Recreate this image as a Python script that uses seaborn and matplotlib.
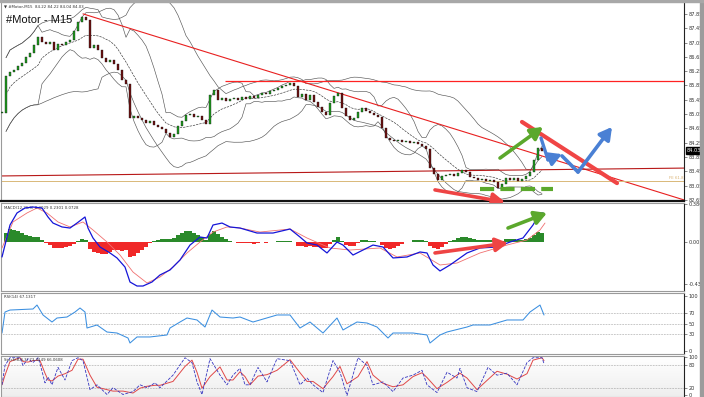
import numpy as np
import pandas as pd
import matplotlib
matplotlib.use('Agg')
import matplotlib.pyplot as plt
from matplotlib.patches import Rectangle
import seaborn as sns

# closing prices, one bar every ~2 original candles
closes = [85.08, 86.11, 86.23, 86.28, 86.39, 86.48, 86.65, 86.76, 86.98, 87.21,
          87.07, 87.01, 87.07, 86.84, 87.01, 86.98, 87.07, 87.12, 87.37, 87.63,
          87.77, 87.68, 86.90, 86.98, 86.84, 86.62, 86.51, 86.56, 86.45, 86.28,
          86.00, 85.89, 84.94, 84.99, 84.94, 84.88, 84.80, 84.85, 84.74, 84.69,
          84.63, 84.52, 84.41, 84.49, 84.71, 84.85, 85.02, 85.05, 84.97, 84.99,
          84.88, 84.77, 85.58, 85.72, 85.44, 85.50, 85.41, 85.47, 85.50, 85.44,
          85.53, 85.47, 85.55, 85.50, 85.58, 85.64, 85.61, 85.69, 85.72, 85.78,
          85.83, 85.86, 85.92, 85.83, 85.53, 85.61, 85.44, 85.58, 85.39, 85.25,
          85.11, 85.02, 85.36, 85.55, 85.64, 85.22, 84.99, 84.88, 84.94, 85.11,
          85.22, 85.13, 85.08, 85.02, 84.97, 84.66, 84.38, 84.32, 84.29, 84.32,
          84.27, 84.29, 84.24, 84.27, 84.21, 84.15, 84.07, 83.54, 83.37, 83.20,
          83.31, 83.34, 83.37, 83.31, 83.40, 83.48, 83.43, 83.29, 83.26, 83.20,
          83.23, 83.17, 83.20, 83.15, 82.98, 83.09, 83.26, 83.20, 83.26, 83.17,
          83.23, 83.31, 83.43, 83.76, 84.10, 84.03]

# MACD main line (blue) and signal line (red), read at bar positions
macd_x = [0, 0.75, 2, 3.75, 5.75, 7.75, 10, 11.5, 12.75, 15, 17, 18.75, 20.75, 21.5,
          22.75, 24.5, 27, 28.75, 30.75, 32, 33.75, 35.25, 37.5, 39.5, 42, 44.5, 47,
          49.5, 51.25, 52.75, 55, 57, 59.5, 63.75, 67.75, 72, 74.5, 76.25, 78.75,
          81.25, 83.75, 85.25, 87.75, 90.25, 92.75, 95.25, 97.75, 101.25, 104.5,
          106.25, 107.75, 109.5, 112, 116.25, 119.5, 123.75, 127, 130.25, 132.75,
          134.5, 135.25]
macd_main = [-0.152, -0.030, 0.175, 0.298, 0.349, 0.359, 0.349, 0.257, 0.195, 0.155,
             0.144, 0.195, 0.257, 0.144, 0.042, -0.050, -0.111, -0.162, -0.255, -0.408,
             -0.449, -0.449, -0.408, -0.336, -0.285, -0.183, -0.030, 0.052, 0.042,
             0.175, 0.195, 0.155, 0.144, 0.093, 0.093, 0.134, 0.052, -0.009, -0.030,
             -0.111, 0.001, -0.030, -0.132, -0.081, -0.030, -0.050, -0.162, -0.152,
             -0.101, -0.111, -0.234, -0.295, -0.234, -0.111, -0.060, -0.050, 0.001,
             0.042, 0.175, 0.298, 0.298]
signal_x = [0, 2.75, 6.25, 8.75, 11.25, 14, 17, 20.25, 22.75, 26.25, 29.5, 32.75,
            36.25, 39.5, 42.75, 46.25, 49.5, 52.75, 56.25, 59.5, 64.5, 72, 76.25, 82,
            87, 94.5, 98.75, 104.5, 109.5, 113.75, 119.5, 126.25, 131.25, 134.5, 135.75]
signal_line = [-0.060, 0.206, 0.298, 0.349, 0.298, 0.206, 0.155, 0.206, 0.124, 0.001,
               -0.132, -0.306, -0.418, -0.357, -0.255, -0.111, 0.001, 0.103, 0.155,
               0.144, 0.103, 0.134, 0.042, -0.060, -0.081, -0.060, -0.152, -0.111,
               -0.234, -0.214, -0.111, -0.030, 0.022, 0.124, 0.195]

# RSI line read at bar positions
rsi_x = [0, 0.75, 2, 7.75, 8.75, 10.25, 12.5, 13.75, 16.25, 18.25, 19.5, 20.75, 21.25,
         23.75, 26.25, 28.75, 31.5, 32, 33.75, 37, 41.25, 42, 44.5, 46.25, 48.75, 50.75,
         52.5, 54.5, 57.75, 59.5, 62.75, 68.75, 72, 74.5, 77, 80.25, 83.75, 85.25,
         88.75, 91.25, 93.75, 96.5, 97.75, 102.75, 106.25, 107, 109.5, 111.25, 116.25,
         117.75, 122, 126.25, 130.25, 132, 134.5, 135.5]
rsi_vals = [32.7, 70.9, 74.5, 76.4, 83.6, 65.5, 52.7, 60.0, 61.8, 70.9, 78.2, 70.9, 41.8,
            47.3, 34.5, 32.7, 23.6, 14.5, 25.5, 25.5, 29.1, 41.8, 52.7, 60.0, 56.4, 43.6,
            74.5, 61.8, 60.0, 61.8, 52.7, 65.5, 65.5, 41.8, 52.7, 32.7, 60.0, 38.2,
            52.7, 50.9, 43.6, 23.6, 32.7, 32.7, 29.1, 14.5, 29.1, 34.5, 43.6, 47.3,
            47.3, 56.4, 56.4, 70.9, 83.6, 65.5]

# Stochastic %K read at bar positions
stoch_x = [0, 0.75, 2, 4.5, 5.25, 6.5, 7.75, 9, 9.5, 10.75, 11.5, 12.5, 14, 15.75, 17.5,
           19, 20.25, 22, 23.75, 26.25, 27.75, 30.25, 32.75, 34.5, 36.25, 38.25, 39.5,
           42.75, 45.75, 47.5, 48.75, 50, 52, 54.5, 56.25, 57.75, 59.5, 60.75, 62, 64,
           66.25, 68.75, 72, 74.5, 76.25, 77.75, 80.25, 82.75, 84.5, 86.25, 89, 91.25,
           92.75, 95.25, 97.75, 100.25, 102.75, 105, 106.25, 108.75, 111.25, 113.75,
           114.5, 116.25, 118.75, 121.5, 123.75, 126.25, 128.75, 131.25, 132.75, 135,
           135.5]
stoch_k = [27.5, 77.5, 97.5, 97.5, 77.5, 95, 85, 97.5, 82.5, 32.5, 47.5, 27.5, 72.5, 40,
           90, 97.5, 90, 15, 27.5, 2.5, 20, 2.5, 10, 27.5, 20, 32.5, 20, 52.5, 97.5, 85,
           35, 2.5, 95, 52.5, 27.5, 52.5, 70, 27.5, 27.5, 72.5, 35, 95, 90, 27.5, 45,
           27.5, 7.5, 90, 60, 0, 97.5, 77.5, 27.5, 35, 10, 45, 52.5, 65, 27.5, 7.5, 60,
           45, 70, 20, 10, 72.5, 52.5, 57.5, 27.5, 85, 97.5, 97.5, 82.5]

price_ticks = [87.85, 87.45, 87.05, 86.65, 86.25, 85.85, 85.45, 85.05,
               84.65, 84.25, 83.85, 83.45, 83.05, 82.65]
last_price = 84.03
macd_ticks = [0.386, 0.0, -0.43]
macd_tick_labels = ['0.386', '0.00', '-0.43']
rsi_ticks = [100, 70, 50, 30, 0]
rsi_levels = [70, 50, 30]
stoch_ticks = [100, 80, 20, 0]
stoch_levels = [80, 20]

# drawn objects (bar index, price / indicator value)
trend_x, trend_y = [20.25, 170.5], [87.85, 82.65]
resist_level, resist_start = 85.98, 55.75
support_x, support_y = [-0.25, 170.5], [83.32, 83.54]
fe_level = 83.17
green_up_x, green_up_y = [124.5, 135.25], [83.82, 84.69]
red_bar_x, red_bar_y = [130.0, 153.75], [84.83, 83.12]
blue1_x, blue1_y = [134.75, 136.5, 140.0], [84.38, 83.77, 83.93]
blue2_x, blue2_y = [140.0, 144.0, 152.5], [83.88, 83.43, 84.69]
dash_x, dash_y = [119.5, 137.75], [82.96, 82.96]
red_down_x, red_down_y = [108.25, 125.75], [82.93, 82.59]
macd_red_x, macd_red_y = [108.25, 126.5], [-0.111, -0.009]
macd_green_x, macd_green_y = [126.5, 136.25], [0.144, 0.298]

# bands, histogram and %D from the series above
s = pd.Series(closes)
idx = np.arange(len(closes))
opens = np.array([closes[0]] + closes[:-1])
c = np.array(closes)

mid1 = s.rolling(10, min_periods=2).mean()
sd1 = s.rolling(10, min_periods=2).std(ddof=0)
mid2 = s.rolling(25, min_periods=2).mean()
sd2 = s.rolling(25, min_periods=2).std(ddof=0)

m = s.ewm(span=6, adjust=False).mean() - s.ewm(span=13, adjust=False).mean()
hist = m - m.ewm(span=5, adjust=False).mean()

stoch_d = pd.Series(stoch_k).rolling(2, min_periods=1).mean()

sns.set_theme(style='white')
plt.rcParams['font.family'] = ['DejaVu Sans']

W, H = 704, 397
fig = plt.figure(figsize=(W / 100, H / 100), dpi=100)


def panel(top, bottom):
    return fig.add_axes([1 / W, 1 - bottom / H, 683 / W, (bottom - top) / H])


ax = panel(1, 201)
ax_m = panel(203, 291)
ax_r = panel(293, 354)
ax_s = panel(356, 397)
XL = (-0.25, 170.5)

for a in (ax, ax_m, ax_r, ax_s):
    a.set_xlim(*XL)
    a.set_xticks([])
    a.yaxis.tick_right()
    a.tick_params(axis='y', labelsize=3.6, length=2, width=0.4, pad=1.5,
                  colors='#333333', direction='out')
    for sp in a.spines.values():
        sp.set_color('#9a9a9a')
        sp.set_linewidth(0.8)
    a.spines['right'].set_color('#222222')

# ---- main price panel
ax.set_ylim(82.62, 88.21)
ax.set_yticks(price_ticks)
ax.set_yticklabels([f'{v:.2f}' for v in price_ticks])
ax.spines['bottom'].set_color('#111111')
ax.spines['bottom'].set_linewidth(1.6)

for mid, sd, ls in ((mid1, sd1, '--'), (mid2, sd2, None)):
    sns.lineplot(x=idx, y=mid + 2 * sd, ax=ax, color='#555555', lw=0.45)
    sns.lineplot(x=idx, y=mid - 2 * sd, ax=ax, color='#555555', lw=0.45)
    if ls:
        sns.lineplot(x=idx, y=mid, ax=ax, color='#333333', lw=0.45, linestyle=ls)

body = c - opens
heights = np.where(np.abs(body) < 0.015, 0.015, np.abs(body))
cols = np.where(body >= 0, '#1f9a1f', '#6e1010')
ax.bar(idx, heights, bottom=np.minimum(opens, c), width=0.55, color=cols,
       edgecolor='#111111', linewidth=0.25, zorder=3)

ax.plot(trend_x, trend_y, color='#e82020', lw=0.8)
ax.hlines(resist_level, resist_start, XL[1], colors='#ff2222', lw=0.9, zorder=4)
ax.plot(support_x, support_y, color='#b81818', lw=0.8)
ax.axhline(fe_level, color='#d9b878', lw=0.7)
ax.text(170.3, fe_level + 0.03, 'FE 61.8', fontsize=2.8, color='#d9b070',
        ha='right', va='bottom')


def arrow(a, xs, ys, color, lw, hw=0.45, hl=0.8):
    a.annotate('', xy=(xs[-1], ys[-1]), xytext=(xs[-2], ys[-2]),
               arrowprops=dict(arrowstyle=f'-|>,head_length={hl},head_width={hw}',
                               color=color, lw=lw, shrinkA=0, shrinkB=0,
                               mutation_scale=9),
               annotation_clip=False, zorder=6)
    if len(xs) > 2:
        a.plot(xs[:-1], ys[:-1], color=color, lw=lw, solid_capstyle='round',
               solid_joinstyle='round', zorder=6, clip_on=False)


sns.lineplot(x=red_bar_x, y=red_bar_y, ax=ax, color='#f04545', lw=3.0, zorder=5)
arrow(ax, green_up_x, green_up_y, '#5ba82c', 2.6)
arrow(ax, blue1_x, blue1_y, '#4a80d4', 2.4)
arrow(ax, blue2_x, blue2_y, '#4a80d4', 2.6)
ax.plot(dash_x, dash_y, color='#5ba82c', lw=3.0, linestyle=(0, (3.4, 1.5)), zorder=6)
arrow(ax, red_down_x, red_down_y, '#ee4444', 2.6)

ax.text(0.004, 0.985, '\u25bc #Motor,M15  84.22 84.22 84.04 84.03', transform=ax.transAxes,
        fontsize=2.8, color='#333333', va='top')
ax.text(0.008, 0.93, '#Motor - M15', transform=ax.transAxes, fontsize=8,
        color='#111111', va='top', family=['Liberation Sans', 'DejaVu Sans'])
ax.text(1.004, last_price, f'{last_price:.2f}', transform=ax.get_yaxis_transform(),
        fontsize=3.6, color='white', va='center', ha='left',
        bbox=dict(boxstyle='square,pad=0.15', fc='black', ec='black'))

# ---- MACD panel
ax_m.set_ylim(-0.50, 0.40)
ax_m.set_yticks(macd_ticks)
ax_m.set_yticklabels(macd_tick_labels)
ax_m.bar(idx, hist, width=0.9, color=np.where(hist >= 0, '#2a8a2a', '#f02828'),
         linewidth=0, zorder=2)
sns.lineplot(x=signal_x, y=signal_line, ax=ax_m, color='#f07070', lw=0.6, zorder=3)
sns.lineplot(x=macd_x, y=macd_main, ax=ax_m, color='#1515d8', lw=0.9, zorder=4)
arrow(ax_m, macd_red_x, macd_red_y, '#ee4444', 2.6)
arrow(ax_m, macd_green_x, macd_green_y, '#5ba82c', 2.6)
ax_m.text(0.004, 0.97, 'MACD(12,26,9) 0.3029 0.2301 0.0728', transform=ax_m.transAxes,
          fontsize=2.8, color='#333333', va='top')

# ---- RSI panel
ax_r.set_ylim(-5.5, 105.5)
ax_r.set_yticks(rsi_ticks)
for lv in rsi_levels:
    ax_r.axhline(lv, color='#777777', lw=0.45, linestyle=(0, (1, 1.5)))
sns.lineplot(x=rsi_x, y=rsi_vals, ax=ax_r, color='#3b8fe0', lw=0.75)
ax_r.text(0.004, 0.96, 'RSI(14) 67.1317', transform=ax_r.transAxes,
          fontsize=2.8, color='#333333', va='top')

# ---- Stochastic panel
ax_s.set_ylim(-4, 102)
ax_s.set_yticks(stoch_ticks)
grad = np.linspace(1, 0, 64).reshape(-1, 1)
ax_s.imshow(grad, extent=(XL[0], XL[1], -4, 102), aspect='auto', cmap='Greys_r',
            vmin=-6, vmax=1, zorder=0)
for lv in stoch_levels:
    ax_s.axhline(lv, color='#777777', lw=0.45, linestyle=(0, (1, 1.5)))
sns.lineplot(x=stoch_x, y=stoch_d, ax=ax_s, color='#e04848', lw=0.7)
sns.lineplot(x=stoch_x, y=stoch_k, ax=ax_s, color='#3535c0', lw=0.6, linestyle='--')
ax_s.text(0.004, 0.95, 'Stoch(8,3,3) 73.4149 66.0608', transform=ax_s.transAxes,
          fontsize=2.8, color='#333333', va='top')
for a in (ax, ax_m, ax_r, ax_s):
    a.set_ylabel('')

fig.patches.append(Rectangle((700 / W, 0), 4 / W, 1, transform=fig.transFigure,
                             color='#9c9c9c', zorder=10))
fig.patches.append(Rectangle((0, 1 - 1.5 / H), 1, 1.5 / H, transform=fig.transFigure,
                             color='#a8a8a8', zorder=10))

fig.savefig('out.png', dpi=100)
